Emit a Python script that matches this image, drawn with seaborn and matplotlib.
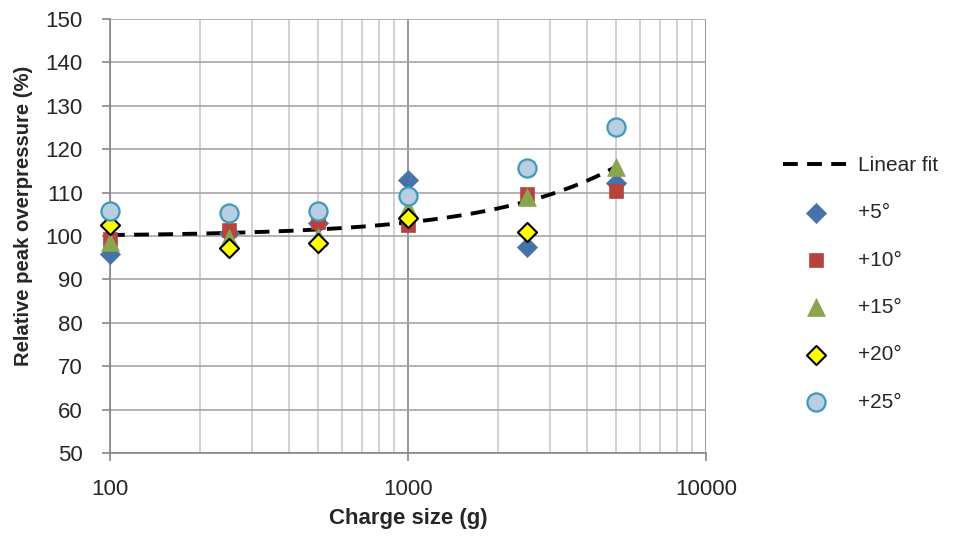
import matplotlib
matplotlib.use("Agg")
import matplotlib.pyplot as plt
from matplotlib.ticker import FixedLocator, FixedFormatter, LogLocator, NullFormatter
import numpy as np
import pandas as pd
import seaborn as sns

sns.set_theme(style="white")
plt.rcParams["font.family"] = ["Liberation Sans", "DejaVu Sans"]

# charge sizes (g)
charge = [100, 250, 500, 1000, 2500, 5000]

# relative peak overpressure (%) per angle offset
p5 = [95.9, 100.7, 103.0, 113.0, 97.4, 112.1]
p10 = [99.2, 101.4, 103.3, 102.5, 109.7, 110.4]
p15 = [98.7, 99.6, 99.8, 106.4, 109.0, 115.8]
p20 = [102.5, 97.2, 98.3, 104.1, 101.0, np.nan]
p25 = [105.8, 105.2, 105.8, 109.2, 115.6, 125.2]

# linear trendline (y = a + b*x) as shown on the chart
fit_intercept = 99.9
fit_slope = 0.00322

series = {"+5°": p5, "+10°": p10, "+15°": p15, "+20°": p20, "+25°": p25}

styles = {
    "+5°": dict(marker="D", s=105, color="#4572a8", edgecolor="#4572a8", linewidth=0.5),
    "+10°": dict(marker="s", s=115, color="#b7433f", edgecolor="#b7433f", linewidth=0.5),
    "+15°": dict(marker="^", s=165, color="#89a54e", edgecolor="#89a54e", linewidth=0.5),
    "+20°": dict(marker="D", s=95, color="#ffff00", edgecolor="black", linewidth=1.5),
    "+25°": dict(marker="o", s=170, color="#b9cde5", edgecolor="#3d9bb5", linewidth=1.6),
}

rows = []
for name, vals in series.items():
    for c, v in zip(charge, vals):
        rows.append({"series": name, "charge": c, "value": v})
df = pd.DataFrame(rows).dropna()

fit_x = np.geomspace(min(charge), max(charge), 200)
fit = pd.DataFrame({"charge": fit_x, "value": fit_intercept + fit_slope * fit_x})

FS = 16

fig, ax = plt.subplots(figsize=(9.55, 5.42), dpi=100)
fig.subplots_adjust(left=0.1152, right=0.7393, top=0.965, bottom=0.1642)

sns.lineplot(data=fit, x="charge", y="value", ax=ax, color="black", lw=2.8,
             linestyle=(0, (3.8, 2.4)), label="Linear fit", zorder=3)
for name in series:
    sub = df[df["series"] == name]
    sns.scatterplot(data=sub, x="charge", y="value", ax=ax, label=name, zorder=4,
                    clip_on=False, **styles[name])

ax.set_xscale("log")
ax.set_xlim(100, 10000)
ax.set_ylim(50, 150)
ax.yaxis.set_major_locator(FixedLocator(np.arange(50, 151, 10)))
ax.xaxis.set_major_locator(FixedLocator([100, 1000, 10000]))
ax.xaxis.set_major_formatter(FixedFormatter(["100", "1000", "10000"]))
ax.xaxis.set_minor_locator(LogLocator(base=10, subs=np.arange(2, 10)))
ax.xaxis.set_minor_formatter(NullFormatter())

ax.grid(True, which="major", axis="y", color="#a6a6a6", lw=1.2)
ax.grid(True, which="major", axis="x", color="#868686", lw=1.2)
ax.grid(True, which="minor", axis="x", color="#c8c8c8", lw=1.2)
ax.set_axisbelow(True)
for s in ["top", "right"]:
    ax.spines[s].set_visible(False)
for s in ["left", "bottom"]:
    ax.spines[s].set_color("#868686")
    ax.spines[s].set_linewidth(1.2)

ax.tick_params(axis="y", which="major", direction="out", length=5.5, width=1.2,
               color="#868686", labelsize=FS, pad=14, left=True)
ax.tick_params(axis="x", which="major", direction="out", length=5.5, width=1.2,
               color="#868686", labelsize=FS, pad=13, bottom=True)
ax.tick_params(axis="x", which="minor", length=0)

ax.set_xlabel("Charge size (g)", fontsize=FS, fontweight="bold", labelpad=6)
ax.set_ylabel("Relative peak overpressure (%)", fontsize=14.6, fontweight="bold")
ax.yaxis.set_label_coords(-0.13, 0.546)

handles, labels = ax.get_legend_handles_labels()
ax.legend(handles, labels, loc="center left", bbox_to_anchor=(1.097, 0.39), frameon=False,
          fontsize=15, labelspacing=1.36, handlelength=3.2, handletextpad=0.4)

fig.savefig("out.png", dpi=100)
